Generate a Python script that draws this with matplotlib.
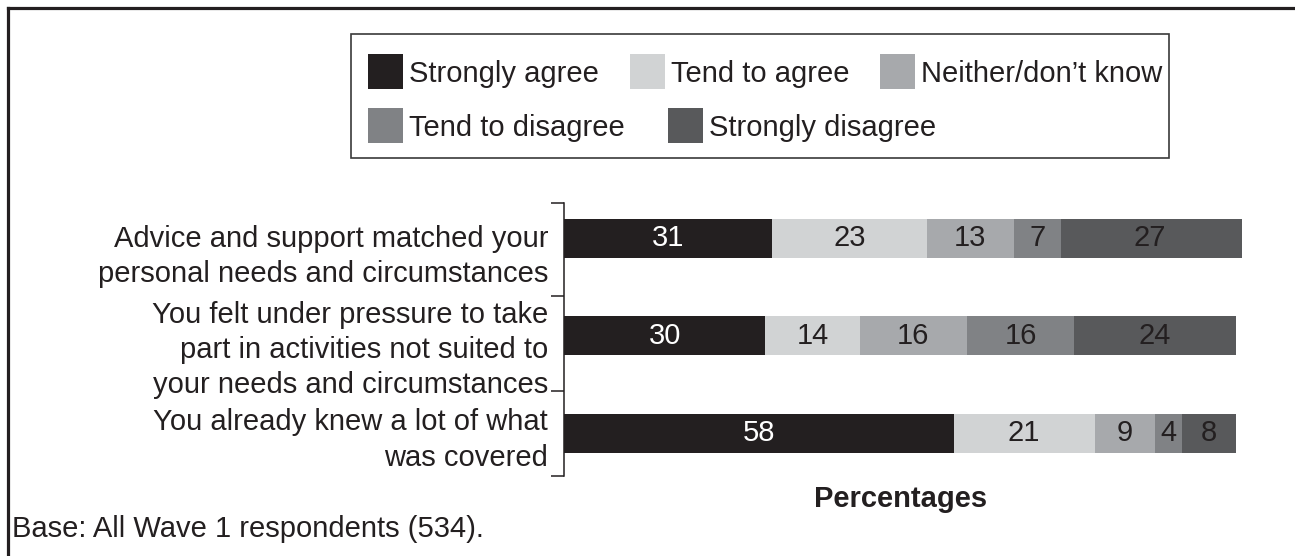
import matplotlib.pyplot as plt
from matplotlib.patches import Rectangle
from matplotlib.lines import Line2D

plt.rcParams['font.family'] = ['Liberation Sans', 'DejaVu Sans']

statements = [
    'Advice and support matched your\npersonal needs and circumstances',
    'You felt under pressure to take\npart in activities not suited to\nyour needs and circumstances',
    'You already knew a lot of what\nwas covered',
]
responses = ['Strongly agree', 'Tend to agree', 'Neither/don\u2019t know',
             'Tend to disagree', 'Strongly disagree']
strongly_agree = [31, 30, 58]
tend_to_agree = [23, 14, 21]
neither = [13, 16, 9]
tend_to_disagree = [7, 16, 4]
strongly_disagree = [27, 24, 8]

series = [strongly_agree, tend_to_agree, neither, tend_to_disagree, strongly_disagree]
colors = ['#231f20', '#d1d3d4', '#a7a9ac', '#808285', '#58595b']
label_colors = ['white', '#231f20', '#231f20', '#231f20', '#231f20']

W, H = 1295, 556
fs = 21
dark = '#231f20'

fig = plt.figure(figsize=(W / 100, H / 100), dpi=100)


def fx(px):
    return px / W


def fy(py):
    return 1 - py / H


# axes placed in pixel terms: x 564..1239, y 203..476
ax = fig.add_axes([fx(564), fy(476), fx(1239) - fx(564), fy(203) - fy(476)])

ypos = list(range(len(statements)))
left = [0] * len(statements)
for vals, c, tc in zip(series, colors, label_colors):
    bars = ax.barh(ypos, vals, left=left, height=0.4, color=c, clip_on=False)
    ax.bar_label(bars, labels=[str(v) for v in vals], label_type='center',
                 color=tc, fontsize=fs)
    left = [a + b for a, b in zip(left, vals)]

ax.set_xlim(0, 100.5)
bounds = [-0.364, 0.59, 1.564, 2.436]
ax.set_ylim(bounds[-1], bounds[0])
mids = [(a + b) / 2 for a, b in zip(bounds[:-1], bounds[1:])]
ax.set_yticks(mids)
ax.set_yticklabels(statements, fontsize=fs, color=dark, linespacing=1.32)
ax.set_yticks(bounds, minor=True)
ax.tick_params(axis='y', which='major', length=0, pad=11.5)
ax.tick_params(axis='y', which='minor', length=9.5, width=1.1, color=dark)
ax.set_xticks([])
for s in ['top', 'right', 'bottom']:
    ax.spines[s].set_visible(False)
ax.spines['left'].set_color(dark)
ax.spines['left'].set_linewidth(1.1)

fig.text(fx(901), fy(507), 'Percentages', ha='center', va='baseline',
         fontsize=fs, fontweight='bold', color=dark)
fig.text(fx(12), fy(537), 'Base: All Wave 1 respondents (534).', ha='left',
         va='baseline', fontsize=fs, color=dark)

# legend box
fig.add_artist(Rectangle((fx(351), fy(158)), fx(1169) - fx(351), fy(34) - fy(158),
                         transform=fig.transFigure, fill=False, edgecolor='#3a3a3a',
                         linewidth=1.2))
leg_pos = [(368, 71.5), (630, 71.5), (880, 71.5), (368, 125.5), (668, 125.5)]
for name, c, (px, py) in zip(responses, colors, leg_pos):
    fig.add_artist(Rectangle((fx(px), fy(py + 17.5)), fx(35), 35 / H,
                             transform=fig.transFigure, color=c, linewidth=0))
    fig.text(fx(px + 41), fy(py + 10), name, ha='left', va='baseline',
             fontsize=fs, color=dark)

# outer border (top and left)
fig.add_artist(Line2D([fx(8), 1], [fy(8), fy(8)], transform=fig.transFigure,
                      color=dark, linewidth=2.3))
fig.add_artist(Line2D([fx(8), fx(8)], [0, fy(8)], transform=fig.transFigure,
                      color=dark, linewidth=2.3))

fig.savefig('out.png', dpi=100)
